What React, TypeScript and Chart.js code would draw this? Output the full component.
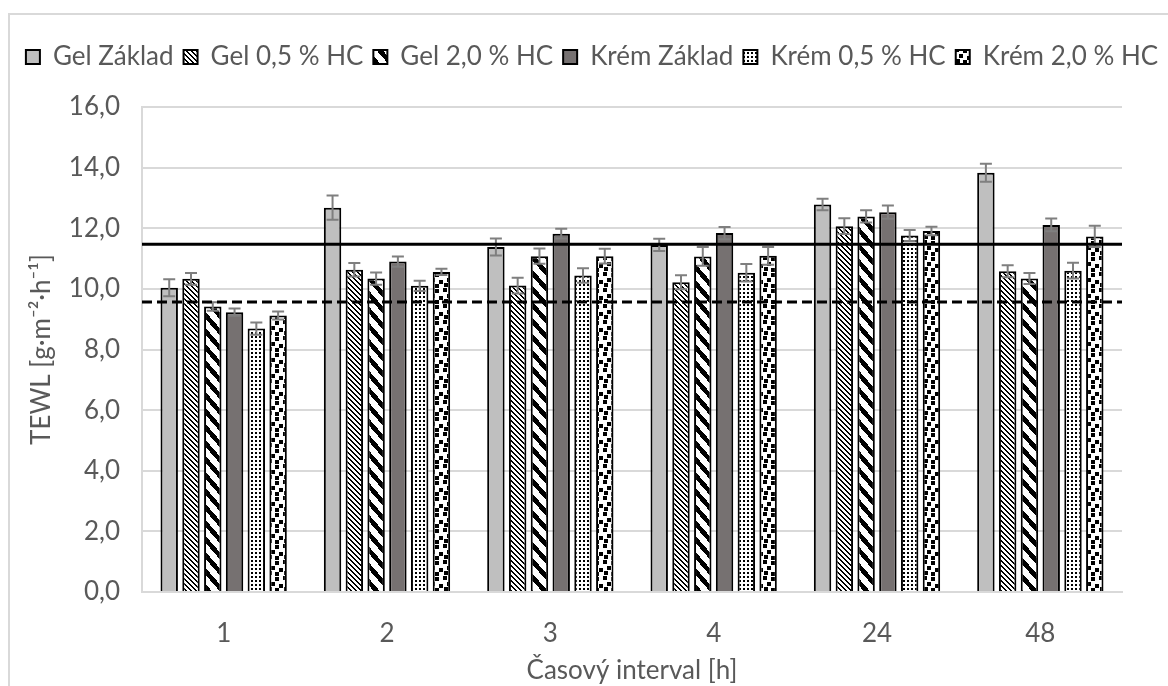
import React, { useEffect, useRef } from 'react';
import { Chart, registerables } from 'chart.js';

Chart.register(...registerables);

const categories = ['1', '2', '3', '4', '24', '48'];
const seriesNames = ['Gel Základ', 'Gel 0,5 % HC', 'Gel 2,0 % HC', 'Krém Základ', 'Krém 0,5 % HC', 'Krém 2,0 % HC'];

const gelZaklad = [10.04, 12.68, 11.38, 11.45, 12.78, 13.83];
const gelZakladErr = [0.28, 0.4, 0.28, 0.2, 0.19, 0.3];
const gel05 = [10.33, 10.63, 10.11, 10.22, 12.07, 10.58];
const gel05Err = [0.19, 0.22, 0.26, 0.23, 0.26, 0.2];
const gel20 = [9.42, 10.34, 11.08, 11.07, 12.39, 10.34];
const gel20Err = [0.14, 0.2, 0.25, 0.31, 0.2, 0.18];
const kremZaklad = [9.23, 10.9, 11.82, 11.84, 12.53, 12.11];
const kremZakladErr = [0.12, 0.17, 0.16, 0.2, 0.22, 0.21];
const krem05 = [8.69, 10.1, 10.44, 10.53, 11.76, 10.6];
const krem05Err = [0.2, 0.17, 0.24, 0.29, 0.18, 0.26];
const krem20 = [9.12, 10.56, 11.08, 11.09, 11.91, 11.73];
const krem20Err = [0.13, 0.1, 0.24, 0.29, 0.14, 0.35];

const solidLineValue = 11.47;
const dashedLineValue = 9.57;

const yMin = 0;
const yMax = 16;
const yStep = 2;

const xTitle = 'Časový interval [h]';
const yTitle = 'TEWL [g·m⁻²·h⁻¹]';

const FONT = 'Lato';
const FS = 26;

function tile(w: number, h: number, fn: (x: number, y: number) => boolean): CanvasPattern | string {
  const c = document.createElement('canvas');
  c.width = w;
  c.height = h;
  const ctx = c.getContext('2d');
  if (!ctx) return '#fff';
  const img = ctx.createImageData(w, h);
  for (let y = 0; y < h; y++) {
    for (let x = 0; x < w; x++) {
      const i = (y * w + x) * 4;
      const v = fn(x, y) ? 0 : 255;
      img.data[i] = v;
      img.data[i + 1] = v;
      img.data[i + 2] = v;
      img.data[i + 3] = 255;
    }
  }
  ctx.putImageData(img, 0, 0);
  return ctx.createPattern(c, 'repeat') || '#fff';
}

const mod = (a: number, n: number) => ((a % n) + n) % n;

export default function App() {
  const ref = useRef<HTMLCanvasElement | null>(null);

  useEffect(() => {
    if (!ref.current) return;

    const patGel05 = tile(5, 5, (x, y) => mod(x - y, 5) <= 1);
    const patGel20 = tile(14, 16, (x, y) => mod(Math.round((x * 16) / 14) - y, 16) < 7);
    const patKrem05 = tile(4, 4, (x, y) => (x === 1 || x === 2) && (y === 1 || y === 2));
    const squares = [
      [1, 1], [9, 2], [5, 7], [13, 9], [2, 12], [9, 13],
    ];
    const patKrem20 = tile(16, 16, (x, y) =>
      squares.some(([sx, sy]) => mod(x - sx, 16) < 4 && mod(y - sy, 16) < 4)
    );

    const values = [gelZaklad, gel05, gel20, kremZaklad, krem05, krem20];
    const errors = [gelZakladErr, gel05Err, gel20Err, kremZakladErr, krem05Err, krem20Err];
    const fills: (string | CanvasPattern)[] = ['#bfbfbf', patGel05, patGel20, '#767171', patKrem05, patKrem20];

    const legendTweak = {
      id: 'legendTweak',
      beforeLayout(chart: any) {
        const lg = chart.legend;
        if (lg && !lg.__patched) {
          const origFit = lg.fit;
          lg.fit = function () {
            origFit.call(this);
            this.height += 27;
          };
          const origUpdate = lg.update;
          lg.update = function (w: number, h: number, m: any) {
            origUpdate.call(this, chart.width + 200, h, m);
          };
          lg.__patched = true;
        }
      },
      afterLayout(chart: any) {
        const lg = chart.legend;
        if (lg) {
          lg.left = -6;
          lg.right = chart.width + 12;
          lg.width = chart.width + 18;
        }
      },
    };

    const errorBars = {
      id: 'errorBars',
      afterDatasetsDraw(chart: any) {
        const ctx = chart.ctx;
        const y = chart.scales.y;
        ctx.save();
        ctx.strokeStyle = '#7f7f7f';
        ctx.lineWidth = 2;
        chart.data.datasets.forEach((ds: any, di: number) => {
          const meta = chart.getDatasetMeta(di);
          meta.data.forEach((el: any, i: number) => {
            const v = ds.data[i];
            const e = errors[di][i];
            const x = el.x;
            const t = y.getPixelForValue(v + e);
            const b = y.getPixelForValue(v - e);
            ctx.beginPath();
            ctx.moveTo(x, t);
            ctx.lineTo(x, b);
            ctx.moveTo(x - 6, t);
            ctx.lineTo(x + 6, t);
            ctx.moveTo(x - 6, b);
            ctx.lineTo(x + 6, b);
            ctx.stroke();
          });
        });
        ctx.restore();
      },
    };

    const refLines = {
      id: 'refLines',
      afterDatasetsDraw(chart: any) {
        const ctx = chart.ctx;
        const area = chart.chartArea;
        const y = chart.scales.y;
        ctx.save();
        ctx.strokeStyle = '#000';
        ctx.lineWidth = 3;
        const ys = y.getPixelForValue(solidLineValue);
        ctx.beginPath();
        ctx.moveTo(area.left, ys);
        ctx.lineTo(area.right, ys);
        ctx.stroke();
        const yd = y.getPixelForValue(dashedLineValue);
        ctx.setLineDash([10, 5]);
        ctx.beginPath();
        ctx.moveTo(area.left, yd);
        ctx.lineTo(area.right, yd);
        ctx.stroke();
        ctx.restore();
      },
    };

    const chart = new Chart(ref.current, {
      type: 'bar',
      data: {
        labels: categories,
        datasets: seriesNames.map((name, i) => ({
          label: name,
          data: values[i],
          backgroundColor: fills[i] as any,
          borderColor: '#000',
          borderWidth: 2,
          categoryPercentage: 0.8,
          barPercentage: 0.8,
        })),
      },
      options: {
        responsive: false,
        animation: false,
        devicePixelRatio: 1,
        layout: { padding: { left: 14, right: 46, top: 19, bottom: 0 } },
        font: { family: FONT },
        plugins: {
          tooltip: { enabled: false },
          legend: {
            position: 'top',
            labels: {
              font: { family: FONT, size: FS },
              color: '#595959',
              boxWidth: 14,
              boxHeight: 14,
              padding: 10,
            },
          },
        },
        scales: {
          x: {
            grid: { display: false, drawTicks: false },
            border: { color: '#d9d9d9', width: 2 },
            ticks: { font: { family: FONT, size: FS }, color: '#595959', padding: 26 },
            title: {
              display: true,
              text: xTitle,
              font: { family: FONT, size: FS },
              color: '#595959',
              padding: { top: 4, bottom: 0 },
            },
            afterFit: (s: any) => {
              s.height = 94;
            },
          },
          y: {
            min: yMin,
            max: yMax,
            ticks: {
              stepSize: yStep,
              font: { family: FONT, size: FS },
              color: '#595959',
              padding: 22,
              callback: (v: any) => Number(v).toFixed(1).replace('.', ','),
            },
            grid: { color: '#d9d9d9', lineWidth: 2, drawTicks: false },
            border: { color: '#d9d9d9', width: 2 },
            title: {
              display: true,
              text: yTitle,
              font: { family: FONT, size: FS },
              color: '#595959',
              padding: { top: 2, bottom: 0 },
            },
            afterFit: (s: any) => {
              s.width = 118;
            },
          },
        },
      },
      plugins: [legendTweak, errorBars, refLines],
    } as any);

    return () => chart.destroy();
  }, []);

  return (
    <div
      style={{
        position: 'absolute',
        left: 8,
        top: 13,
        width: 1160,
        height: 673,
        borderLeft: '2px solid #d9d9d9',
        borderTop: '2px solid #d9d9d9',
        boxSizing: 'border-box',
        overflow: 'hidden',
        background: '#fff',
      }}
    >
      <canvas ref={ref} width={1158} height={671} style={{ display: 'block' }} />
    </div>
  );
}
